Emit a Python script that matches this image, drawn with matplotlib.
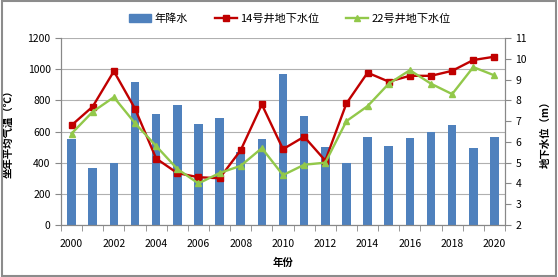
import numpy as np
import matplotlib.pyplot as plt
from matplotlib.patches import Rectangle
from matplotlib.lines import Line2D

plt.rcParams['font.family'] = ['Noto Sans CJK SC', 'DejaVu Sans']

years = list(range(2000, 2021))
rain = [555, 365, 400, 920, 710, 770, 650, 685, 470, 555, 970,
        700, 500, 400, 565, 505, 560, 600, 640, 495, 565]
well14 = [6.8, 7.7, 9.4, 7.6, 5.2, 4.5, 4.3, 4.25, 5.6, 7.8, 5.65,
          6.25, 5.1, 7.85, 9.33, 8.9, 9.18, 9.18, 9.42, 9.94, 10.1]
well22 = [6.4, 7.45, 8.15, 6.9, 5.8, 4.7, 4.0, 4.5, 4.85, 5.7, 4.4,
          4.9, 5.0, 7.0, 7.72, 8.8, 9.45, 8.8, 8.3, 9.6, 9.2]

blue = '#4F81BD'
red = '#C00000'
green = '#92C84A'

fig = plt.figure(figsize=(5.58, 2.77), dpi=100)
ax = fig.add_axes([61/558, 1-225/277, 444/558, 187/277])
x = np.arange(len(years))

ax.bar(x, rain, width=0.4, color=blue, zorder=2)
ax.set_ylim(0, 1200)
ax.set_yticks(range(0, 1201, 200))
ax.set_xlim(-0.5, len(years)-0.5)
ax.yaxis.grid(True, color='#b0b0b0', lw=0.8, zorder=0)
ax.set_axisbelow(True)
ax.set_xticks(x[::2])
ax.set_xticklabels([str(y) for y in years[::2]])
ax.set_xticks(np.arange(-0.5, len(years), 1), minor=True)
ax.tick_params(axis='x', which='major', length=0, pad=10, labelsize=7.5)
ax.tick_params(axis='x', which='minor', length=4, color='#888888')
ax.tick_params(axis='y', length=4, color='#888888', labelsize=7.5)
ax.set_xlabel('年份', fontsize=7.5, fontweight='bold', labelpad=6)
ax.set_ylabel('坐年平均气温（℃）', fontsize=7.5, fontweight='bold', labelpad=10)
for s in ['left', 'bottom', 'right']:
    ax.spines[s].set_color('#888888')
ax.spines['top'].set_visible(False)

ax2 = ax.twinx()
ax2.plot(x, well14, color=red, lw=1.7, marker='s', ms=4, zorder=3)
ax2.plot(x, well22, color=green, lw=1.7, marker='^', ms=5, zorder=3)
ax2.set_ylim(2, 11)
ax2.set_yticks(range(2, 12))
ax2.tick_params(axis='y', length=4, color='#888888', labelsize=7.5)
ax2.set_ylabel('地下水位（m）', fontsize=7.5, fontweight='bold', labelpad=10)
for s in ['left', 'bottom', 'right']:
    ax2.spines[s].set_color('#888888')
ax2.spines['top'].set_visible(False)

handles = [Rectangle((0, 0), 1, 1, color=blue),
           Line2D([], [], color=red, lw=1.7, marker='s', ms=4),
           Line2D([], [], color=green, lw=1.7, marker='^', ms=5)]
fig.legend(handles, ['年降水', '14号井地下水位', '22号井地下水位'],
           loc='center', bbox_to_anchor=(290/558, 1-19/277), ncol=3,
           frameon=False, fontsize=8, handlelength=2.0, columnspacing=2.4,
           handletextpad=0.3)

fig.patches.append(Rectangle((0.003, 0.004), 0.994, 0.992, transform=fig.transFigure,
                             fill=False, edgecolor='#8c8c8c', lw=1.5))

fig.savefig('out.png', dpi=100)
